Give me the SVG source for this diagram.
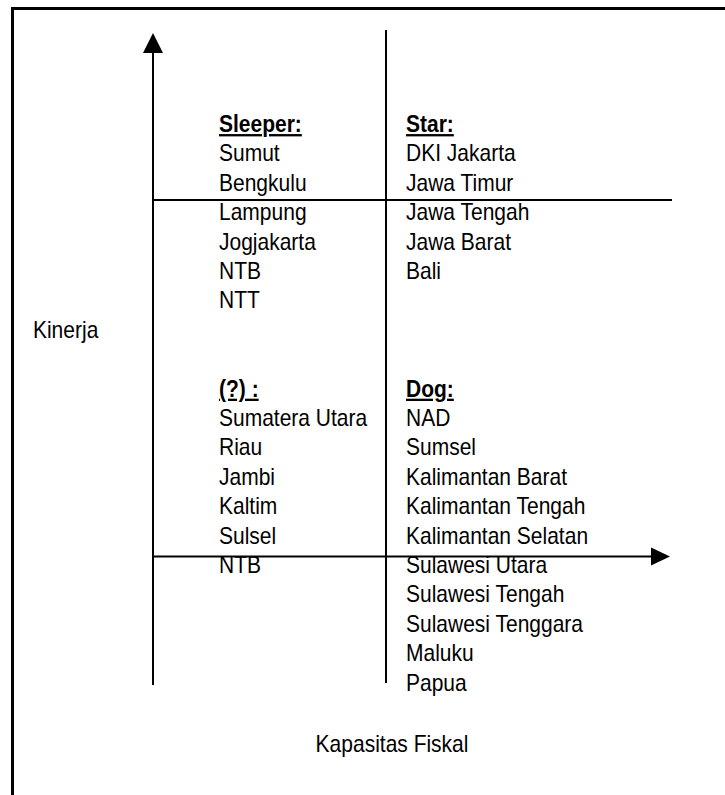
<svg xmlns="http://www.w3.org/2000/svg" width="725" height="795" viewBox="0 0 725 795">
<style>
text{font-family:"Liberation Sans",Arial,sans-serif;font-size:23px;fill:#000}
.h{font-weight:bold;text-decoration:underline}
.ln{stroke:#000;stroke-width:2;fill:none}
</style>
<rect width="725" height="795" fill="#fff"/>
<path d="M12.5 800 V8.5 H730" stroke="#000" stroke-width="3" fill="none"/>
<g id="connectors">
<line class="ln" x1="153" y1="685" x2="153" y2="50"/>
<polygon points="153,33 143,53 163,53" fill="#000"/>
<line class="ln" x1="386" y1="30" x2="386" y2="683"/>
<line class="ln" x1="153" y1="200" x2="672" y2="200"/>
<line class="ln" x1="153" y1="556.5" x2="655" y2="556.5"/>
<polygon points="670,556.5 651,547.5 651,565.5" fill="#000"/>
</g>
<g id="kinerja" transform="scale(0.913,1)"><text x="36.1" y="338">Kinerja</text></g>
<g id="kapasitas" transform="scale(0.913,1)"><text x="429.4" y="752" text-anchor="middle">Kapasitas Fiskal</text></g>
<g id="sleeper" transform="scale(0.913,1)">
<text class="h" x="239.9" y="132">Sleeper:</text>
<text x="239.9" y="161.4">Sumut</text>
<text x="239.9" y="190.8">Bengkulu</text>
<text x="239.9" y="220.2">Lampung</text>
<text x="239.9" y="249.6">Jogjakarta</text>
<text x="239.9" y="279">NTB</text>
<text x="239.9" y="308.4">NTT</text>
</g>
<g id="star" transform="scale(0.913,1)">
<text class="h" x="444.7" y="132">Star:</text>
<text x="444.7" y="161.4">DKI Jakarta</text>
<text x="444.7" y="190.8">Jawa Timur</text>
<text x="444.7" y="220.2">Jawa Tengah</text>
<text x="444.7" y="249.6">Jawa Barat</text>
<text x="444.7" y="279">Bali</text>
</g>
<g id="unknown" transform="scale(0.913,1)">
<text class="h" x="239.9" y="396.6">(?) :</text>
<text x="239.9" y="426">Sumatera Utara</text>
<text x="239.9" y="455.4">Riau</text>
<text x="239.9" y="484.8">Jambi</text>
<text x="239.9" y="514.2">Kaltim</text>
<text x="239.9" y="543.6">Sulsel</text>
<text x="239.9" y="573">NTB</text>
</g>
<g id="dog" transform="scale(0.913,1)">
<text class="h" x="444.7" y="396.6">Dog:</text>
<text x="444.7" y="426">NAD</text>
<text x="444.7" y="455.4">Sumsel</text>
<text x="444.7" y="484.8">Kalimantan Barat</text>
<text x="444.7" y="514.2">Kalimantan Tengah</text>
<text x="444.7" y="543.6">Kalimantan Selatan</text>
<text x="444.7" y="573">Sulawesi Utara</text>
<text x="444.7" y="602.4">Sulawesi Tengah</text>
<text x="444.7" y="631.8">Sulawesi Tenggara</text>
<text x="444.7" y="661.2">Maluku</text>
<text x="444.7" y="690.6">Papua</text>
</g>
</svg>
